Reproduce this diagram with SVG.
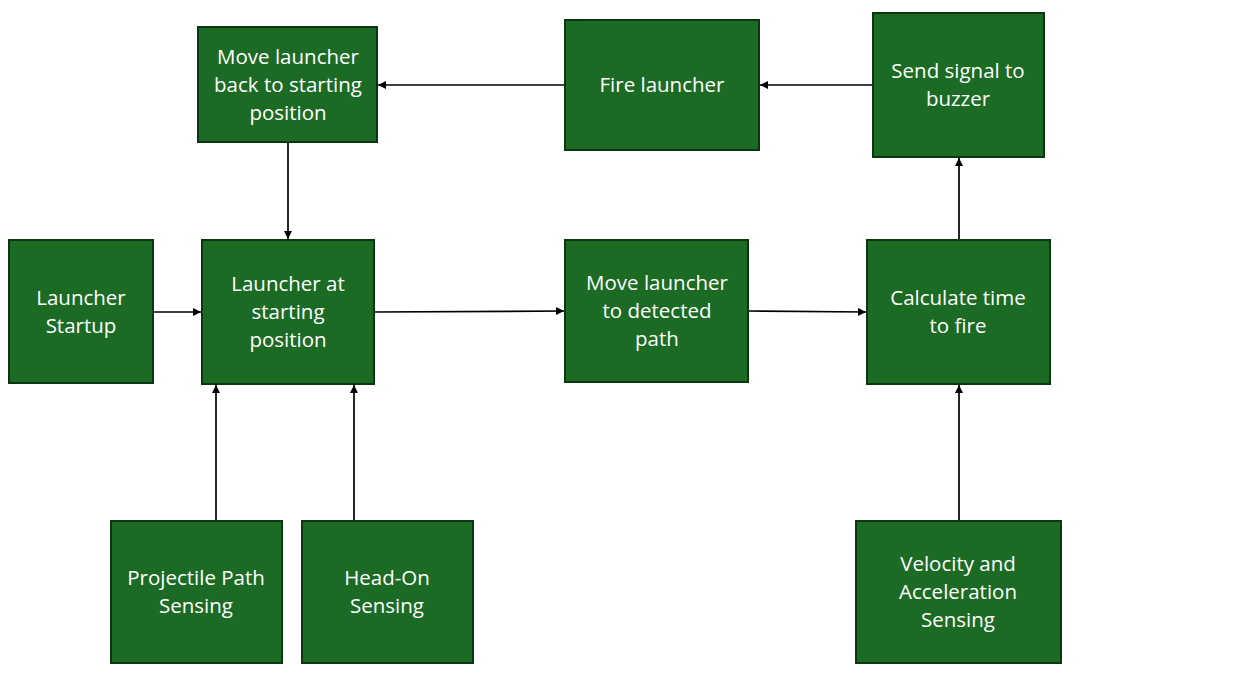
<svg xmlns="http://www.w3.org/2000/svg" width="1238" height="692" viewBox="0 0 1238 692">
<defs>
<marker id="ah" viewBox="0 0 10 10" refX="10" refY="5" markerWidth="8" markerHeight="8" markerUnits="userSpaceOnUse" orient="auto"><path d="M0,0 L10,5 L0,10 z" fill="#000"/></marker>
<style>
.box{fill:#1b6b25;stroke:#0c3511;stroke-width:2}
.t{font-family:"Open Sans","Noto Sans",sans-serif;font-size:20.5px;fill:#fff;text-anchor:middle}
.c{stroke:#000;stroke-width:1.7;fill:none;marker-end:url(#ah)}
</style>
</defs>
<rect width="1238" height="692" fill="#fff"/>
<g id="connectors">
<line class="c" x1="565" y1="85" x2="378" y2="85"/>
<line class="c" x1="873" y1="85" x2="760" y2="85"/>
<line class="c" x1="288" y1="142" x2="288" y2="239"/>
<line class="c" x1="153" y1="312" x2="201" y2="312"/>
<line class="c" x1="374" y1="312" x2="564" y2="311"/>
<line class="c" x1="748" y1="311" x2="866" y2="312"/>
<line class="c" x1="959" y1="240" x2="959" y2="158"/>
<line class="c" x1="216" y1="521" x2="216" y2="385"/>
<line class="c" x1="354" y1="521" x2="354" y2="385"/>
<line class="c" x1="959" y1="521" x2="959" y2="385"/>
</g>
<g id="move-back"><rect class="box" x="198" y="27" width="179" height="115"/><text class="t" x="288" y="64">Move launcher</text><text class="t" x="288" y="92">back to starting</text><text class="t" x="288" y="120">position</text></g>
<g id="fire"><rect class="box" x="565" y="20" width="194" height="130"/><text class="t" x="662" y="92">Fire launcher</text></g>
<g id="buzzer"><rect class="box" x="873" y="13" width="171" height="144"/><text class="t" x="958" y="78">Send signal to</text><text class="t" x="958" y="106">buzzer</text></g>
<g id="startup"><rect class="box" x="9" y="240" width="144" height="143"/><text class="t" x="81" y="305">Launcher</text><text class="t" x="81" y="333">Startup</text></g>
<g id="starting"><rect class="box" x="202" y="240" width="172" height="144"/><text class="t" x="288" y="291">Launcher at</text><text class="t" x="288" y="319">starting</text><text class="t" x="288" y="347">position</text></g>
<g id="detected"><rect class="box" x="565" y="240" width="183" height="142"/><text class="t" x="657" y="290">Move launcher</text><text class="t" x="657" y="318">to detected</text><text class="t" x="657" y="346">path</text></g>
<g id="calc"><rect class="box" x="867" y="240" width="183" height="144"/><text class="t" x="958" y="305">Calculate time</text><text class="t" x="958" y="333">to fire</text></g>
<g id="projectile"><rect class="box" x="111" y="521" width="171" height="142"/><text class="t" x="196" y="585">Projectile Path</text><text class="t" x="196" y="613">Sensing</text></g>
<g id="headon"><rect class="box" x="302" y="521" width="171" height="142"/><text class="t" x="387" y="585">Head-On</text><text class="t" x="387" y="613">Sensing</text></g>
<g id="velocity"><rect class="box" x="856" y="521" width="205" height="142"/><text class="t" x="958" y="571">Velocity and</text><text class="t" x="958" y="599">Acceleration</text><text class="t" x="958" y="627">Sensing</text></g>
</svg>
